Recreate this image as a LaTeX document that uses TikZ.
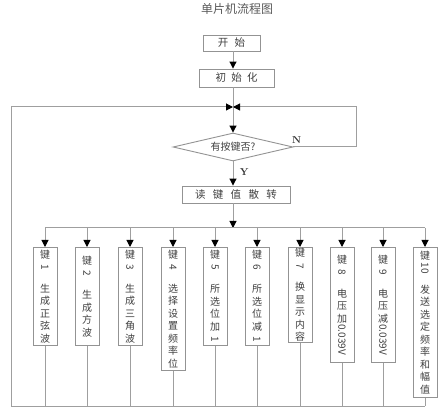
\documentclass[tikz,border=0pt]{standalone}
\usepackage{fontspec}
\usepackage{graphicx}
\newfontfamily\cjk{Noto Sans CJK SC}
\usetikzlibrary{arrows.meta,shapes.geometric,positioning}
\newcommand{\vnum}[1]{\rotatebox[origin=c]{-90}{#1}}
\tikzset{
  flowbox/.style={draw=gray!85,line width=0.9pt,rectangle,inner sep=0pt,font=\cjk\fontsize{10.5}{12}\selectfont,text=black!75},
  keybox/.style={draw=gray!85,line width=0.9pt,fill=white,rectangle,anchor=north,minimum width=24pt,inner sep=1pt,align=center,font=\cjk\fontsize{10}{12.5}\selectfont,text=black!75},
  decide/.style={draw=gray!85,line width=0.9pt,diamond,aspect=4.3,inner sep=0pt,minimum width=120pt,minimum height=28pt,font=\cjk\fontsize{10}{12}\selectfont,text=black!75},
  flow/.style={draw=gray!75,line width=1pt},
  lbl/.style={font=\bfseries\fontsize{10}{12}\selectfont,text=black!80}
}

\begin{document}
\begin{tikzpicture}[x=1pt,y=-1pt,>={Triangle[color=black,length=7pt,width=7pt]}]
  \useasboundingbox (0,0) rectangle (444,411);

  \node[font=\cjk\fontsize{12}{14}\selectfont,text=black!65] (title) at (237,9) {单片机流程图};
  \node[flowbox,minimum width=57pt,minimum height=16pt] (start) at (231.5,43) {开\hspace{0.6em}始};
  \node[flowbox,minimum width=75pt,minimum height=18pt] (init) at (236.5,78) {初\hspace{0.5em}始\hspace{0.5em}化};
  \coordinate (j) at (233,107);
  \node[decide] (ask) at (233,147) {有按键否?};
  \node[flowbox,minimum width=108pt,minimum height=17pt] (read) at (236,194.5) {读\hspace{0.7em}键\hspace{0.7em}值\hspace{0.7em}散\hspace{0.7em}转};
  \coordinate (bus) at (233,228);
  \coordinate (bot) at (11,406);
  \coordinate (rt) at (356,147);

  % key boxes
  \node[keybox,minimum height=98pt] (k1) at (45,247) {键\\\vnum{1}\\[9pt]生\\成\\正\\弦\\波};
  \node[keybox,minimum height=98pt] (k2) at (87,247) {键\\\vnum{2}\\[9pt]生\\成\\方\\波};
  \node[keybox,minimum height=98pt] (k3) at (130,247) {键\\\vnum{3}\\[9pt]生\\成\\三\\角\\波};
  \node[keybox,minimum height=123pt] (k4) at (173,247) {键\\\vnum{4}\\[9pt]选\\择\\设\\置\\频\\率\\位};
  \node[keybox,minimum height=98pt] (k5) at (215,247) {键\\\vnum{5}\\[9pt]所\\选\\位\\加\\\vnum{1}};
  \node[keybox,minimum height=98pt] (k6) at (257,247) {键\\\vnum{6}\\[9pt]所\\选\\位\\减\\\vnum{1}};
  \node[keybox,minimum height=93pt] (k7) at (300,247) {键\\\vnum{7}\\[9pt]换\\显\\示\\内\\容};
  \node[keybox,minimum height=115pt] (k8) at (342,247) {键\\\vnum{8}\\[9pt]电\\压\\加\\\vnum{0.039V}};
  \node[keybox,minimum height=115pt] (k9) at (383,247) {键\\\vnum{9}\\[9pt]电\\压\\减\\\vnum{0.039V}};
  \node[keybox,minimum height=150pt] (k10) at (425,247) {键\\\vnum{10}\\[9pt]发\\送\\选\\定\\频\\率\\和\\幅\\值};

  \draw[flow,->] (start.south -| j) -- (init.north -| j);
  \draw[flow] (init.south -| j) -- (j);
  \draw[flow,->] (j) -- (ask.north);
  \draw[flow,->] (ask.south) -- node[lbl,right=3pt,pos=0.45]{Y} (ask.south |- read.north);
  \draw[flow,->] (ask.east) -- node[lbl,above,pos=0.05]{N} (rt) |- (j);
  \draw[flow,->] (read.south -| bus) -- (bus);
  \draw[flow] (k1.north |- bus) -- (k10.north |- bus);
  \foreach \k in {1,...,10} {
    \draw[flow,->] (k\k.north |- bus) -- (k\k.north);
    \draw[flow] (k\k.south) -- (k\k.south |- bot);
  }
  \draw[flow] (k10.south |- bot) -- (bot);
  \draw[flow,->] (bot) -- (bot |- j) -- (j);
\end{tikzpicture}
\end{document}
